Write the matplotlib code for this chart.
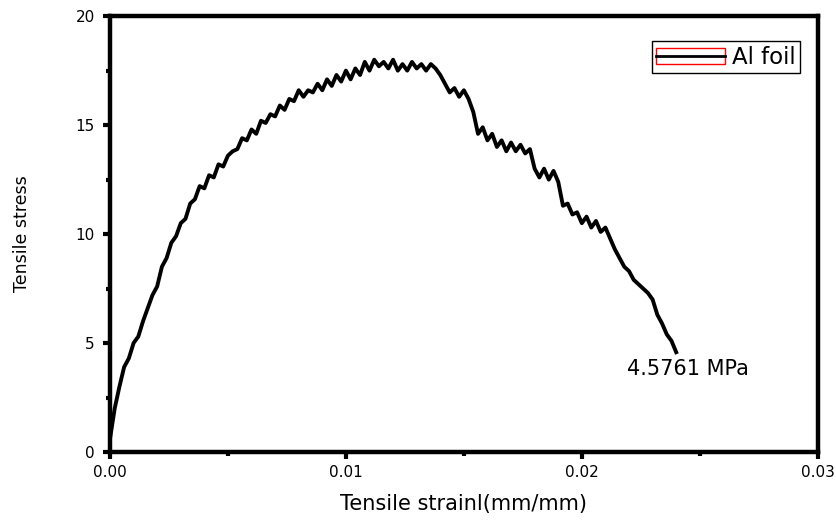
import numpy as np
import matplotlib.pyplot as plt
from matplotlib.patches import Rectangle
from matplotlib.lines import Line2D
from matplotlib.ticker import MultipleLocator

plt.rcParams['font.family'] = ['DejaVu Sans']

strain = np.round(np.arange(0, 0.02401, 0.0002), 4)
stress = [0.6, 2.0, 3.0, 3.9, 4.3, 5.0, 5.3, 6.0, 6.6, 7.2,
          7.6, 8.5, 8.9, 9.6, 9.9, 10.5, 10.7, 11.4, 11.6, 12.2,
          12.1, 12.7, 12.6, 13.2, 13.1, 13.6, 13.8, 13.9, 14.4, 14.3,
          14.8, 14.6, 15.2, 15.1, 15.5, 15.4, 15.9, 15.7, 16.2, 16.1,
          16.6, 16.3, 16.6, 16.5, 16.9, 16.6, 17.1, 16.8, 17.3, 17.0,
          17.5, 17.1, 17.6, 17.3, 17.9, 17.5, 18.0, 17.7, 17.9, 17.6,
          18.0, 17.5, 17.8, 17.5, 17.9, 17.6, 17.8, 17.5, 17.8, 17.6,
          17.3, 16.9, 16.5, 16.7, 16.3, 16.6, 16.2, 15.6, 14.6, 14.9,
          14.3, 14.6, 14.0, 14.3, 13.8, 14.2, 13.8, 14.1, 13.7, 13.9,
          13.0, 12.6, 13.0, 12.5, 12.9, 12.4, 11.3, 11.4, 10.9, 11.0,
          10.5, 10.8, 10.3, 10.6, 10.1, 10.3, 9.8, 9.3, 8.9, 8.5,
          8.3, 7.9, 7.7, 7.5, 7.3, 7.0, 6.3, 5.9, 5.4, 5.1,
          4.58]
final_stress = 4.5761

fig = plt.figure(figsize=(8.37, 5.21), dpi=100)
ax = fig.add_axes([0.1314, 0.1324, 0.8456, 0.8366])

ax.plot(strain, stress, color='black', linewidth=2.8)

ax.set_xlim(0, 0.03)
ax.set_ylim(0, 20)
ax.set_xticks([0, 0.01, 0.02, 0.03])
ax.set_xticklabels(['0.00', '0.01', '0.02', '0.03'])
ax.xaxis.set_minor_locator(MultipleLocator(0.005))
ax.yaxis.set_major_locator(MultipleLocator(5))
ax.yaxis.set_minor_locator(MultipleLocator(2.5))

for s in ax.spines.values():
    s.set_linewidth(3.2)
ax.tick_params(which='major', direction='out', length=5, width=3, labelsize=11,
               colors='black', pad=4)
ax.tick_params(axis='y', which='major', pad=6)
ax.tick_params(which='minor', direction='out', length=3, width=3)

ax.set_xlabel("Tensile strainl(mm/mm)", fontsize=15)
ax.set_ylabel("Tensile stress", fontsize=12.5)
ax.xaxis.set_label_coords(0.5, -0.097)
ax.yaxis.set_label_coords(-0.112, 0.5)

ax.text(0.0219, 3.8, "%.4f MPa" % final_stress, fontsize=15, va='center')

h_box = Rectangle((0, 0), 1, 1, facecolor='none', edgecolor='red', linewidth=1)
h_line = Line2D([], [], color='black', linewidth=2)
leg = ax.legend([(h_box, h_line)], ["Al foil"], loc='upper right',
                bbox_to_anchor=(0.975, 0.943), fontsize=16.5, handlelength=3.0,
                handletextpad=0.3, borderpad=0.2, borderaxespad=0,
                fancybox=False, framealpha=1)
leg.get_frame().set_edgecolor('black')
leg.get_frame().set_linewidth(1)

fig.savefig("out.png", dpi=100)
